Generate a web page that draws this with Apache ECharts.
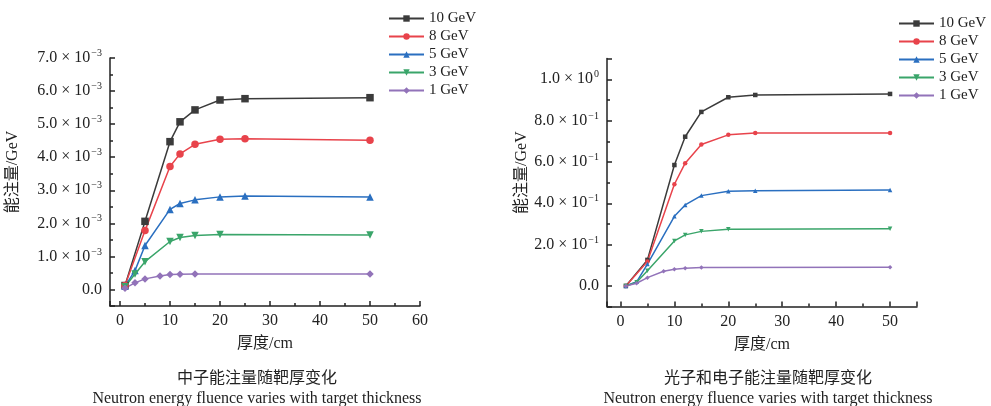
<!DOCTYPE html>
<html>
<head>
<meta charset="utf-8">
<script src="https://cdn.jsdelivr.net/npm/echarts@6/dist/echarts.min.js"></script>
<style>
html, body { margin: 0; padding: 0; background: #fff; }
#main { width: 991px; height: 406px; }
</style>
</head>
<body>
<div id="main"></div>
<script>
// thickness (cm) sampled for each curve
var names = ['10 GeV', '8 GeV', '5 GeV', '3 GeV', '1 GeV'];
var xMain = [1, 5, 10, 12, 15, 20, 25, 50];
var xBlue = [1, 3, 5, 10, 12, 15, 20, 25, 50];
var xGreen = [1, 3, 5, 10, 12, 15, 20, 50];
var xLow = [1, 3, 5, 8, 10, 12, 15, 50];

// neutron energy fluence, GeV
var neutron10 = [0.12e-3, 2.06e-3, 4.47e-3, 5.07e-3, 5.43e-3, 5.73e-3, 5.77e-3, 5.80e-3];
var neutron8 = [0.12e-3, 1.78e-3, 3.72e-3, 4.10e-3, 4.39e-3, 4.54e-3, 4.56e-3, 4.51e-3];
var neutron5 = [0.10e-3, 0.57e-3, 1.33e-3, 2.42e-3, 2.60e-3, 2.71e-3, 2.80e-3, 2.83e-3, 2.80e-3];
var neutron3 = [0.08e-3, 0.47e-3, 0.84e-3, 1.45e-3, 1.57e-3, 1.63e-3, 1.66e-3, 1.65e-3];
var neutron1 = [0.04e-3, 0.20e-3, 0.32e-3, 0.41e-3, 0.45e-3, 0.46e-3, 0.47e-3, 0.47e-3];

// photon + electron energy fluence, GeV
var photon10 = [0, 0.126, 0.585, 0.722, 0.842, 0.913, 0.924, 0.929];
var photon8 = [0, 0.118, 0.492, 0.594, 0.684, 0.731, 0.740, 0.740];
var photon5 = [0, 0.020, 0.106, 0.337, 0.392, 0.437, 0.458, 0.461, 0.464];
var photon3 = [0, 0.018, 0.074, 0.218, 0.247, 0.264, 0.274, 0.277];
var photon1 = [0, 0.013, 0.040, 0.071, 0.081, 0.086, 0.089, 0.090];

var colors = ['#3b3b3b', '#e8434b', '#2a6fc0', '#3aa56a', '#9273b9'];
var symbols = ['rect', 'circle', 'triangle', 'path://M0,0L10,0L5,9Z', 'diamond'];
var FONT = "'Liberation Serif', 'Noto Sans CJK SC', serif";

function zip(xs, ys) {
    return xs.map(function (x, i) { return [x, ys[i]]; });
}

var leftData = [zip(xMain, neutron10), zip(xMain, neutron8), zip(xBlue, neutron5), zip(xGreen, neutron3), zip(xLow, neutron1)];
var rightData = [zip(xMain, photon10), zip(xMain, photon8), zip(xBlue, photon5), zip(xGreen, photon3), zip(xLow, photon1)];

var sciRich = {
    m: { fontFamily: FONT, fontSize: 16, color: '#222' },
    s: { fontFamily: FONT, fontSize: 10, color: '#222', padding: [0, 0, 9, 1] }
};

function leftLabel(v) {
    var m = Math.round(v * 1e4) / 10;
    if (m === 0) return '{m|0.0}';
    return '{m|' + m.toFixed(1) + ' × 10}{s|−3}';
}
function rightLabel(v) {
    var m = Math.round(v * 10) / 10;
    if (m === 0) return '{m|0.0}';
    if (m === 1) return '{m|1.0 × 10}{s|0}';
    return '{m|' + (m * 10).toFixed(1) + ' × 10}{s|−1}';
}

function xAxisOf(idx, min, max, showMax) {
    return {
        type: 'value', gridIndex: idx, min: min, max: max, splitNumber: 6,
        name: '厚度/cm', nameLocation: 'middle', nameGap: 30,
        nameTextStyle: { fontFamily: FONT, fontSize: 16, color: '#222' },
        axisLine: { onZero: false, lineStyle: { color: '#222', width: 1.5 } },
        axisTick: { inside: true, length: 5, lineStyle: { color: '#222', width: 1.5 } },
        minorTick: { show: true, splitNumber: 2, length: 3, lineStyle: { color: '#222', width: 1.5 } },
        splitLine: { show: false },
        axisLabel: { showMinLabel: false, showMaxLabel: showMax, margin: 7, fontFamily: FONT, fontSize: 16, color: '#222' }
    };
}

function yAxisOf(idx, min, max, split, fmt, gap) {
    return {
        type: 'value', gridIndex: idx, min: min, max: max, splitNumber: split,
        name: '能注量/GeV', nameLocation: 'middle', nameGap: gap,
        nameTextStyle: { fontFamily: FONT, fontSize: 16, color: '#222', padding: [0, 0, 0, 20] },
        axisLine: { onZero: false, lineStyle: { color: '#222', width: 1.5 } },
        axisTick: { inside: true, length: 5, lineStyle: { color: '#222', width: 1.5 } },
        minorTick: { show: true, splitNumber: 2, length: 3, lineStyle: { color: '#222', width: 1.5 } },
        splitLine: { show: false },
        axisLabel: { showMinLabel: false, showMaxLabel: idx === 0, margin: 8, formatter: fmt, rich: sciRich }
    };
}

var series = [];
names.forEach(function (n, i) {
    series.push({
        name: n, type: 'line', xAxisIndex: 0, yAxisIndex: 0, data: leftData[i],
        symbol: symbols[i], symbolSize: 7.5, showAllSymbol: true,
        lineStyle: { color: colors[i], width: 1.5 },
        itemStyle: { color: colors[i] }
    });
});
names.forEach(function (n, i) {
    series.push({
        name: n, type: 'line', xAxisIndex: 1, yAxisIndex: 1, data: rightData[i],
        symbol: symbols[i], symbolSize: 4.5, showAllSymbol: true,
        lineStyle: { color: colors[i], width: 1.5 },
        itemStyle: { color: colors[i] }
    });
});

function legendAt(left, top) {
    return {
        orient: 'vertical', left: left, top: top, data: names, padding: 0,
        itemWidth: 35, itemHeight: 8, itemGap: 3,
        textStyle: { fontFamily: FONT, fontSize: 15, color: '#222' }
    };
}

var myChart = echarts.init(document.getElementById('main'));

option = {
    backgroundColor: '#fff',
    animation: false,
    title: [
        {
            text: '中子能注量随靶厚变化',
            subtext: 'Neutron energy fluence varies with target thickness',
            left: 257, top: 371, textAlign: 'center', itemGap: 4, padding: 0,
            textStyle: { fontFamily: FONT, fontSize: 16, fontWeight: 'normal', color: '#222' },
            subtextStyle: { fontFamily: FONT, fontSize: 16, color: '#222' }
        },
        {
            text: '光子和电子能注量随靶厚变化',
            subtext: 'Neutron energy fluence varies with target thickness',
            left: 768, top: 371, textAlign: 'center', itemGap: 4, padding: 0,
            textStyle: { fontFamily: FONT, fontSize: 16, fontWeight: 'normal', color: '#222' },
            subtextStyle: { fontFamily: FONT, fontSize: 16, color: '#222' }
        }
    ],
    legend: [legendAt(388, 11), legendAt(898, 16)],
    grid: [
        { left: 110, top: 58, width: 310, height: 248 },
        { left: 607, top: 58.6, width: 310, height: 248 }
    ],
    xAxis: [xAxisOf(0, -2, 60, true), xAxisOf(1, -2.5, 55, false)],
    yAxis: [
        yAxisOf(0, -0.5e-3, 7e-3, 7, leftLabel, 89),
        yAxisOf(1, -0.1, 1.1, 6, rightLabel, 77)
    ],
    series: series
};

myChart.setOption(option);
</script>
</body>
</html>
